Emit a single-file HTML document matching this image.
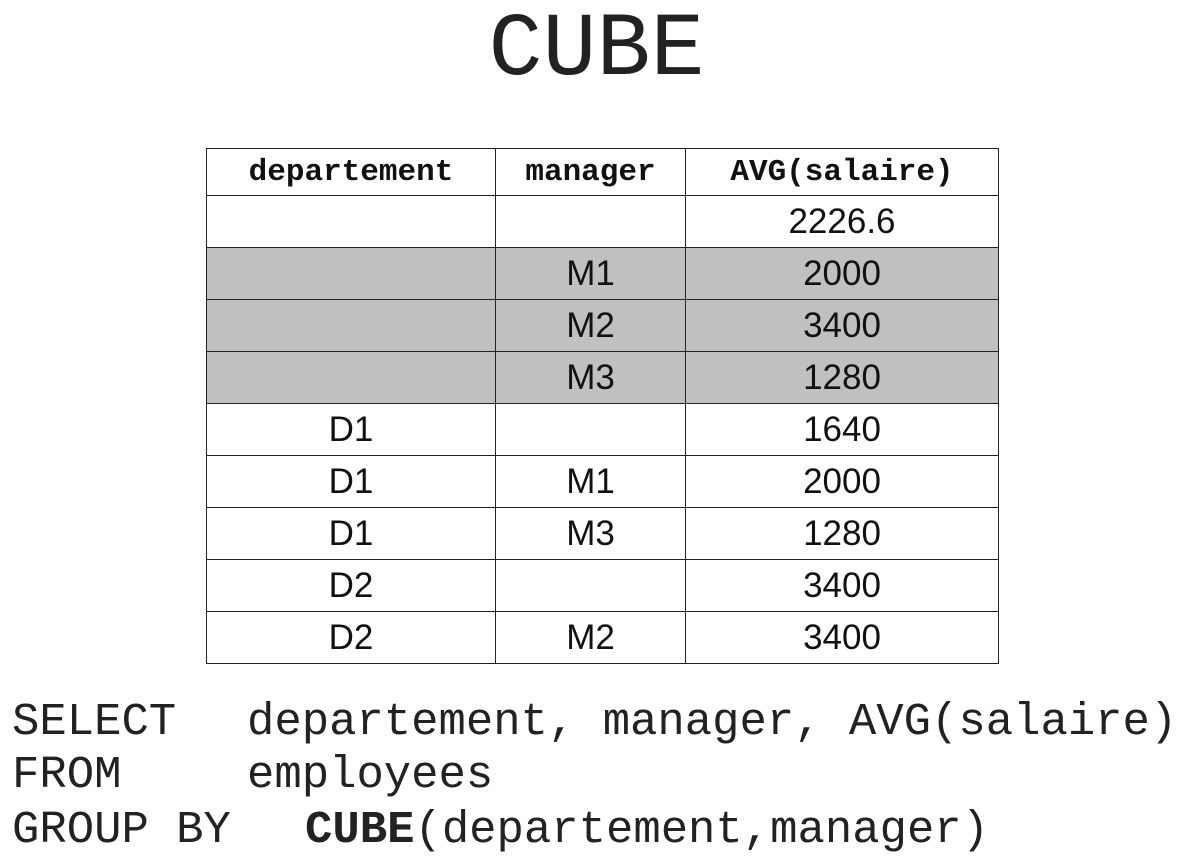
<!DOCTYPE html>
<html><head><meta charset="utf-8"><style>
body{margin:0;width:1193px;height:864px;background:#fff;position:relative;overflow:hidden;font-family:"Liberation Sans",sans-serif;color:#111}
.t{position:absolute;left:0;width:1193px;text-align:center;top:6px;font-family:"Liberation Mono",monospace;font-size:90px;line-height:90px;color:#222}
table{position:absolute;left:206px;top:148px;border-collapse:collapse;table-layout:fixed}
td,th{border:1px solid #222;text-align:center;padding:0;font-size:35px;font-weight:300;overflow:hidden;white-space:nowrap}
th{font-family:"Liberation Mono",monospace;font-weight:bold;font-size:31px;height:46px}
td{height:51px}
tr.g td{background:#c0c0c0}
.s{position:absolute;left:12px;font-family:"Liberation Mono",monospace;font-size:45.6px;line-height:45px;white-space:pre;color:#222}
</style></head><body>
<div class="t">CUBE</div>
<table>
<tr><th style="width:288px">departement</th><th style="width:189px">manager</th><th style="width:312px">AVG(salaire)</th></tr>
<tr><td></td><td></td><td>2226.6</td></tr>
<tr class="g"><td></td><td>M1</td><td>2000</td></tr>
<tr class="g"><td></td><td>M2</td><td>3400</td></tr>
<tr class="g"><td></td><td>M3</td><td>1280</td></tr>
<tr><td>D1</td><td></td><td>1640</td></tr>
<tr><td>D1</td><td>M1</td><td>2000</td></tr>
<tr><td>D1</td><td>M3</td><td>1280</td></tr>
<tr><td>D2</td><td></td><td>3400</td></tr>
<tr><td>D2</td><td>M2</td><td>3400</td></tr>
</table>
<div class="s" style="top:700px">SELECT</div><div class="s" style="top:700px;left:247px">departement, manager, AVG(salaire)</div>
<div class="s" style="top:753px">FROM</div><div class="s" style="top:753px;left:247px">employees</div>
<div class="s" style="top:808px">GROUP BY</div><div class="s" style="top:808px;left:305px"><b>CUBE</b>(departement,manager)</div>
</body></html>
